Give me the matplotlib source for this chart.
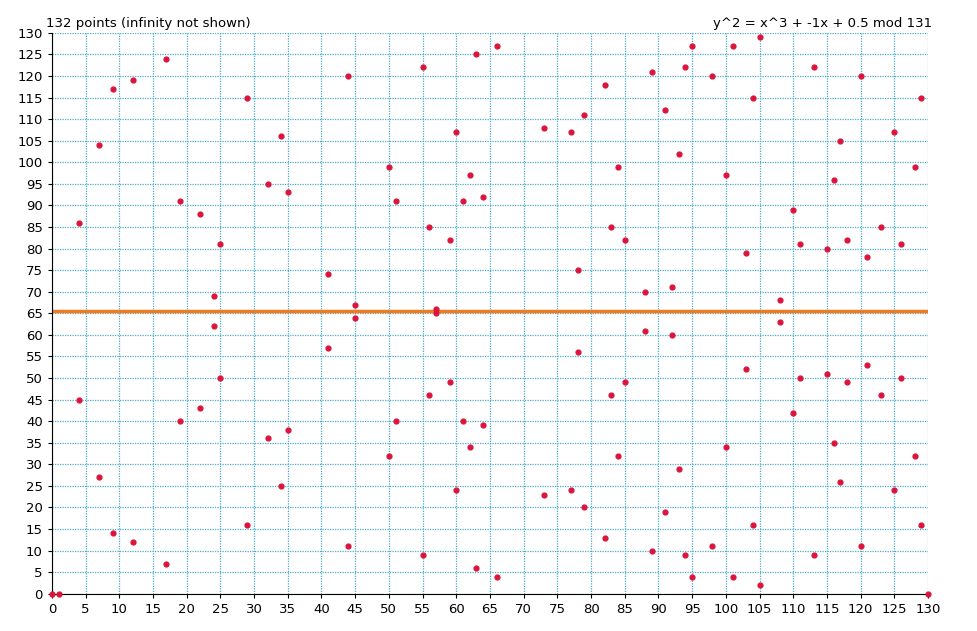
import matplotlib.pyplot as plt

# points
xs = [0, 1, 130,
      4, 4, 7, 7, 9, 9, 12, 12, 17, 17, 19, 19, 22, 22, 24, 24, 25, 25,
      29, 29, 32, 32, 34, 34, 35, 35, 41, 41, 44, 44, 45, 45, 50, 50,
      51, 51, 55, 55, 56, 56, 57, 57, 59, 59, 60, 60, 61, 61, 62, 62,
      63, 63, 64, 64, 66, 66, 73, 73, 77, 77, 78, 78, 79, 79, 82, 82,
      83, 83, 84, 84, 85, 85, 88, 88, 89, 89, 91, 91, 92, 92, 93, 93,
      94, 94, 95, 95, 98, 98, 100, 100, 101, 101, 103, 103, 104, 104,
      105, 105, 108, 108, 110, 110, 111, 111, 113, 113, 115, 115, 116, 116,
      117, 117, 118, 118, 120, 120, 121, 121, 123, 123, 125, 125, 126, 126,
      128, 128, 129, 129]
ys = [0, 0, 0,
      86, 45, 104, 27, 117, 14, 119, 12, 124, 7, 91, 40, 88, 43, 69, 62, 81, 50,
      115, 16, 95, 36, 106, 25, 93, 38, 74, 57, 120, 11, 67, 64, 99, 32,
      91, 40, 122, 9, 85, 46, 66, 65, 82, 49, 107, 24, 91, 40, 97, 34,
      125, 6, 92, 39, 127, 4, 108, 23, 107, 24, 75, 56, 111, 20, 118, 13,
      85, 46, 99, 32, 82, 49, 70, 61, 121, 10, 112, 19, 71, 60, 102, 29,
      122, 9, 127, 4, 120, 11, 97, 34, 127, 4, 79, 52, 115, 16,
      129, 2, 68, 63, 89, 42, 81, 50, 122, 9, 80, 51, 96, 35,
      105, 26, 82, 49, 120, 11, 78, 53, 85, 46, 107, 24, 81, 50,
      99, 32, 115, 16]
sym_line = 65.5
ticks = list(range(0, 131, 5))

fig = plt.figure(figsize=(9.78, 6.31), dpi=100)
ax = fig.add_axes([0.053, 0.059, 0.896, 0.889])

ax.set_xlim(0, 130)
ax.set_ylim(0, 130)
ax.set_xticks(ticks)
ax.set_yticks(ticks)
ax.tick_params(labelsize=9.5, length=3)
ax.grid(True, color='#4aaccc', linestyle=(0, (1, 1)), linewidth=0.9)
ax.set_axisbelow(True)
for s in ['top', 'right']:
    ax.spines[s].set_visible(False)

ax.axhline(sym_line, color='#f07a20', linewidth=2.5, zorder=2)
ax.scatter(xs, ys, s=12, color='#dc143c', zorder=3, clip_on=False)

fig.text(0.047, 0.958, '132 points (infinity not shown)', fontsize=9.5, ha='left')
fig.text(0.953, 0.958, 'y^2 = x^3 + -1x + 0.5 mod 131', fontsize=9.5, ha='right')

plt.savefig('out.png', dpi=100)
